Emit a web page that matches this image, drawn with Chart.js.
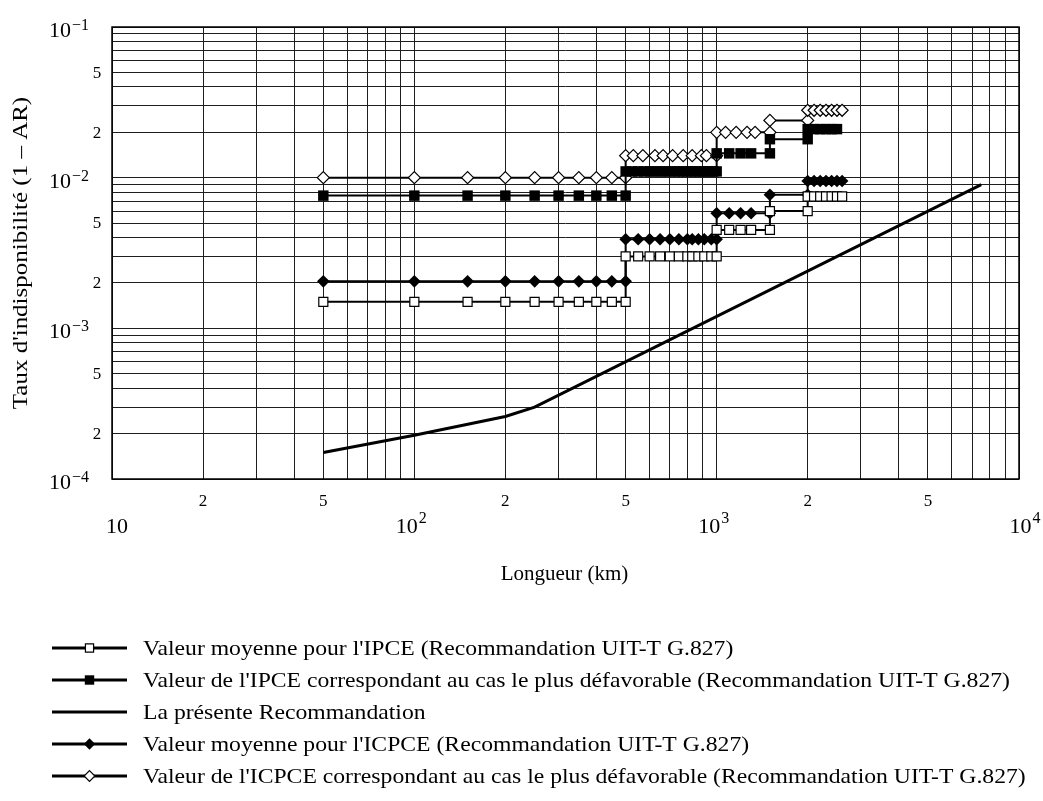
<!DOCTYPE html>
<html>
<head>
<meta charset="utf-8">
<title>Taux d'indisponibilité</title>
<script src="https://cdn.jsdelivr.net/npm/chart.js@4.4.1/dist/chart.umd.min.js"></script>
<style>
  html, body { margin: 0; padding: 0; background: #fff; }
  #wrap { width: 1043px; height: 801px; }
</style>
</head>
<body>
<div id="wrap"><canvas id="chart" width="1043" height="801"></canvas></div>
<script>
// ===============================
// DATA
// ===============================
// Valeur moyenne pour l'IPCE
const ipceMoyX = [50, 100, 150, 200, 250, 300, 350, 400, 450, 500,
  500, 550, 600, 650, 700, 750, 800, 830, 870, 910, 960, 1000,
  1000, 1100, 1200, 1300, 1500,
  1500, 2000,
  2000, 2100, 2200, 2300, 2400, 2500, 2600];
const ipceMoyY = [1.5e-3, 1.5e-3, 1.5e-3, 1.5e-3, 1.5e-3, 1.5e-3, 1.5e-3, 1.5e-3, 1.5e-3, 1.5e-3,
  3e-3, 3e-3, 3e-3, 3e-3, 3e-3, 3e-3, 3e-3, 3e-3, 3e-3, 3e-3, 3e-3, 3e-3,
  4.5e-3, 4.5e-3, 4.5e-3, 4.5e-3, 4.5e-3,
  6e-3, 6e-3,
  7.5e-3, 7.5e-3, 7.5e-3, 7.5e-3, 7.5e-3, 7.5e-3, 7.5e-3];

// Valeur de l'IPCE, cas le plus défavorable
const ipceDefX = [50, 100, 150, 200, 250, 300, 350, 400, 450, 500,
  500, 525, 550, 575, 600, 625, 650, 675, 700, 725, 750, 775, 800, 825, 850, 875, 900, 925, 950, 975, 1000,
  1000, 1100, 1200, 1300, 1500,
  1500, 2000,
  2000, 2100, 2200, 2300, 2400, 2500];
const ipceDefY = [7.6e-3, 7.6e-3, 7.6e-3, 7.6e-3, 7.6e-3, 7.6e-3, 7.6e-3, 7.6e-3, 7.6e-3, 7.6e-3,
  1.1e-2, 1.1e-2, 1.1e-2, 1.1e-2, 1.1e-2, 1.1e-2, 1.1e-2, 1.1e-2, 1.1e-2, 1.1e-2, 1.1e-2,
  1.1e-2, 1.1e-2, 1.1e-2, 1.1e-2, 1.1e-2, 1.1e-2, 1.1e-2, 1.1e-2, 1.1e-2, 1.1e-2,
  1.45e-2, 1.45e-2, 1.45e-2, 1.45e-2, 1.45e-2,
  1.8e-2, 1.8e-2,
  2.1e-2, 2.1e-2, 2.1e-2, 2.1e-2, 2.1e-2, 2.1e-2];

// La présente Recommandation
const presenteX = [50, 100, 200, 250, 7500];
const presenteY = [1.5e-4, 1.95e-4, 2.6e-4, 3.0e-4, 9.0e-3];

// Valeur moyenne pour l'ICPCE
const icpceMoyX = [50, 100, 150, 200, 250, 300, 350, 400, 450, 500,
  500, 550, 600, 650, 700, 750, 800, 830, 870, 910, 960, 1000,
  1000, 1100, 1200, 1300, 1500,
  1500, 2000,
  2000, 2100, 2200, 2300, 2400, 2500, 2600];
const icpceMoyY = [2.05e-3, 2.05e-3, 2.05e-3, 2.05e-3, 2.05e-3, 2.05e-3, 2.05e-3, 2.05e-3, 2.05e-3, 2.05e-3,
  3.9e-3, 3.9e-3, 3.9e-3, 3.9e-3, 3.9e-3, 3.9e-3, 3.9e-3, 3.9e-3, 3.9e-3, 3.9e-3, 3.9e-3, 3.9e-3,
  5.8e-3, 5.8e-3, 5.8e-3, 5.8e-3, 5.8e-3,
  7.7e-3, 7.7e-3,
  9.5e-3, 9.5e-3, 9.5e-3, 9.5e-3, 9.5e-3, 9.5e-3, 9.5e-3];

// Valeur de l'ICPCE, cas le plus défavorable
const icpceDefX = [50, 100, 150, 200, 250, 300, 350, 400, 450, 500,
  500, 530, 570, 625, 665, 715, 775, 830, 890, 925, 1000,
  1000, 1070, 1160, 1260, 1340, 1500,
  1500, 2000,
  2000, 2100, 2200, 2300, 2400, 2500, 2600];
const icpceDefY = [1e-2, 1e-2, 1e-2, 1e-2, 1e-2, 1e-2, 1e-2, 1e-2, 1e-2, 1e-2,
  1.4e-2, 1.4e-2, 1.4e-2, 1.4e-2, 1.4e-2, 1.4e-2, 1.4e-2, 1.4e-2, 1.4e-2, 1.4e-2, 1.4e-2,
  2e-2, 2e-2, 2e-2, 2e-2, 2e-2, 2e-2,
  2.4e-2, 2.4e-2,
  2.8e-2, 2.8e-2, 2.8e-2, 2.8e-2, 2.8e-2, 2.8e-2, 2.8e-2];

// ===============================
// AXES / TICKS
// ===============================
const xDecades = [10, 100, 1000, 10000];
const yDecades = [1e-4, 1e-3, 1e-2, 1e-1];
const gridSteps = [1, 2, 3, 4, 5, 6, 7, 8, 9];
const xMajorExp = ["", "2", "3", "4"];
const yMajorExp = ["\u22124", "\u22123", "\u22122", "\u22121"];
const xMinorLabeled = [20, 50, 200, 500, 2000, 5000];
const yMinorLabeled = [2e-4, 5e-4, 2e-3, 5e-3, 2e-2, 5e-2];

const xTitle = "Longueur (km)";
const yTitle = "Taux d'indisponibilit\u00e9 (1 \u2013 AR)";

const labels = [
  "Valeur moyenne pour l'IPCE (Recommandation UIT-T G.827)",
  "Valeur de l'IPCE correspondant au cas le plus d\u00e9favorable (Recommandation UIT-T G.827)",
  "La pr\u00e9sente Recommandation",
  "Valeur moyenne pour l'ICPCE (Recommandation UIT-T G.827)",
  "Valeur de l'ICPCE correspondant au cas le plus d\u00e9favorable (Recommandation UIT-T G.827)"
];

function gridValues(decades) {
  const out = [];
  decades.forEach((d, i) => {
    if (i === decades.length - 1) { out.push(d); return; }
    gridSteps.forEach(s => out.push(Number((d * s).toPrecision(6))));
  });
  return out;
}
const xGrid = gridValues(xDecades);
const yGrid = gridValues(yDecades);

function pts(xs, ys) {
  return xs.map((x, i) => ({ x: x, y: ys[i] }));
}

const SERIF = "'Liberation Serif', 'Times New Roman', serif";

// ===============================
// DATASETS
// ===============================
const datasets = [
  { label: labels[0], data: pts(ipceMoyX, ipceMoyY), borderColor: "#000", borderWidth: 2,
    pointStyle: "rect", pointRadius: 6.4, pointBackgroundColor: "#fff", pointBorderColor: "#000", pointBorderWidth: 1.2 },
  { label: labels[1], data: pts(ipceDefX, ipceDefY), borderColor: "#000", borderWidth: 2,
    pointStyle: "rect", pointRadius: 7.4, pointBackgroundColor: "#000", pointBorderColor: "#000", pointBorderWidth: 0 },
  { label: labels[2], data: pts(presenteX, presenteY), borderColor: "#000", borderWidth: 3,
    pointRadius: 0 },
  { label: labels[3], data: pts(icpceMoyX, icpceMoyY), borderColor: "#000", borderWidth: 2,
    pointStyle: "rectRot", pointRadius: 6.3, pointBackgroundColor: "#000", pointBorderColor: "#000", pointBorderWidth: 0 },
  { label: labels[4], data: pts(icpceDefX, icpceDefY), borderColor: "#000", borderWidth: 2,
    pointStyle: "rectRot", pointRadius: 6, pointBackgroundColor: "#fff", pointBorderColor: "#000", pointBorderWidth: 1.2 }
];

// ===============================
// DECORATION: border, tick labels, titles, legend
// ===============================
function drawMarker(ctx, ds, x, y) {
  if (!ds.pointRadius) return;
  const r = ds.pointRadius;
  ctx.beginPath();
  if (ds.pointStyle === "rect") {
    const h = r * Math.SQRT1_2;
    ctx.rect(x - h, y - h, 2 * h, 2 * h);
  } else {
    ctx.moveTo(x, y - r); ctx.lineTo(x + r, y); ctx.lineTo(x, y + r); ctx.lineTo(x - r, y); ctx.closePath();
  }
  ctx.fillStyle = ds.pointBackgroundColor;
  ctx.fill();
  if (ds.pointBorderWidth > 0) {
    ctx.lineWidth = ds.pointBorderWidth;
    ctx.strokeStyle = ds.pointBorderColor;
    ctx.stroke();
  }
}

// text slightly widened along its direction, like the source figure
function fillWide(ctx, text, x, y, sx) {
  ctx.save();
  ctx.translate(x, y);
  ctx.scale(sx, 1);
  ctx.fillText(text, 0, 0);
  ctx.restore();
}

function powerWidths(ctx, exp) {
  ctx.font = "22px " + SERIF;
  const wb = ctx.measureText("10").width;
  ctx.font = "16px " + SERIF;
  const we = exp ? ctx.measureText(exp).width + 1 : 0;
  return [wb, we];
}

function drawPower(ctx, exp, left, baseY, supY) {
  ctx.textAlign = "left";
  ctx.textBaseline = "alphabetic";
  ctx.font = "22px " + SERIF;
  ctx.fillText("10", left, baseY);
  const wb = ctx.measureText("10").width;
  if (exp) {
    ctx.font = "16px " + SERIF;
    ctx.fillText(exp, left + wb + 1, supY);
  }
}

const decorPlugin = {
  id: "decor",
  beforeDatasetsDraw(chart) {
    const ctx = chart.ctx;
    const a = chart.chartArea;
    ctx.save();
    ctx.strokeStyle = "#000";
    ctx.lineWidth = 1.5;
    ctx.strokeRect(a.left, a.top, a.right - a.left, a.bottom - a.top);
    ctx.restore();
  },
  afterDraw(chart) {
    const ctx = chart.ctx;
    const xs = chart.scales.x;
    const ys = chart.scales.y;
    const a = chart.chartArea;
    ctx.save();
    ctx.fillStyle = "#000";

    // minor labels (2 and 5)
    ctx.font = "17px " + SERIF;
    ctx.textAlign = "center";
    ctx.textBaseline = "middle";
    const digit = v => String(Math.round(v / Math.pow(10, Math.floor(Math.log10(v) + 1e-9))));
    yMinorLabeled.forEach(v => {
      ctx.fillText(digit(v), a.left - 15, ys.getPixelForValue(v) + 1);
    });
    xMinorLabeled.forEach(v => {
      ctx.fillText(digit(v), xs.getPixelForValue(v), a.bottom + 23);
    });

    // y major labels (right aligned)
    yDecades.forEach((v, i) => {
      const gy = ys.getPixelForValue(v);
      const w = powerWidths(ctx, yMajorExp[i]);
      drawPower(ctx, yMajorExp[i], a.left - 23 - w[0] - w[1], gy + 10, gy + 3);
    });
    // x major labels
    const xShift = [5, -3, -3, 6];
    xDecades.forEach((v, i) => {
      const gx = xs.getPixelForValue(v);
      const w = powerWidths(ctx, xMajorExp[i]);
      drawPower(ctx, xMajorExp[i], gx + xShift[i] - (w[0] + w[1]) / 2, a.bottom + 54, a.bottom + 44);
    });

    // axis titles
    ctx.textAlign = "center";
    ctx.textBaseline = "middle";
    ctx.font = "20px " + SERIF;
    ctx.save();
    ctx.translate((a.left + a.right) / 2 - 1, a.bottom + 96);
    ctx.scale(1.05, 1);
    ctx.fillText(xTitle, 0, 0);
    ctx.restore();
    ctx.save();
    ctx.translate(21, (a.top + a.bottom) / 2);
    ctx.rotate(-Math.PI / 2);
    ctx.font = "21px " + SERIF;
    fillWide(ctx, yTitle, 0, 0, 1.19);
    ctx.restore();

    // legend
    const rowY0 = 648;
    const rowStep = 32;
    chart.data.datasets.forEach((ds, i) => {
      const y = rowY0 + i * rowStep;
      ctx.beginPath();
      ctx.strokeStyle = "#000";
      ctx.lineWidth = 3;
      ctx.moveTo(52, y);
      ctx.lineTo(127, y);
      ctx.stroke();
      const legendDs = Object.assign({}, ds, { pointRadius: ds.pointRadius ? ds.pointRadius * 0.9 : 0 });
      drawMarker(ctx, legendDs, 89.5, y);
      ctx.fillStyle = "#000";
      ctx.font = "21px " + SERIF;
      ctx.textAlign = "left";
      ctx.textBaseline = "middle";
      fillWide(ctx, ds.label, 143, y + 1, 1.127);
    });
    ctx.restore();
  }
};

// ===============================
// CHART
// ===============================
const chartCtx = document.getElementById("chart").getContext("2d");
new Chart(chartCtx, {
  type: "line",
  data: { datasets: datasets },
  options: {
    responsive: false,
    animation: false,
    devicePixelRatio: 1,
    layout: { padding: { left: 112, top: 27, right: 24, bottom: 322 } },
    elements: { line: { tension: 0 } },
    plugins: { legend: { display: false }, tooltip: { enabled: false } },
    scales: {
      x: {
        type: "logarithmic", min: 10, max: 10000,
        ticks: { display: false },
        grid: { color: "#1e1e1e", lineWidth: 1, drawTicks: false },
        border: { display: false },
        afterBuildTicks: s => { s.ticks = xGrid.map(v => ({ value: v })); }
      },
      y: {
        type: "logarithmic", min: 1e-4, max: 1e-1,
        ticks: { display: false },
        grid: { color: "#1e1e1e", lineWidth: 1, drawTicks: false },
        border: { display: false },
        afterBuildTicks: s => { s.ticks = yGrid.map(v => ({ value: v })); }
      }
    }
  },
  plugins: [decorPlugin]
});
</script>
</body>
</html>
